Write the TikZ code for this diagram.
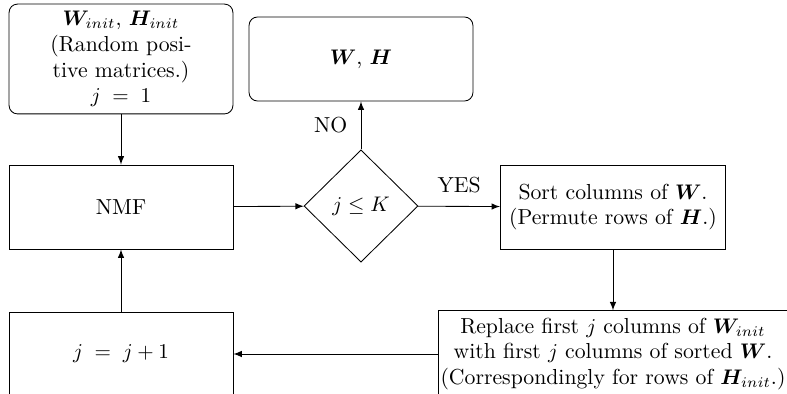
\documentclass[tikz,border=0pt]{standalone}
\usepackage{amsmath}
\usepackage{bm}
\usepackage{tikz}
\usetikzlibrary{shapes.geometric}

\begin{document}
\begin{tikzpicture}[x=0.016667cm,y=-0.016667cm,>=latex,
  every node/.style={font=\fontsize{10.3pt}{12.2pt}\selectfont},
  box/.style={draw,rectangle,minimum width=3.73cm,minimum height=1.4cm,align=center},
  rbox/.style={box,rounded corners=4pt}]
\useasboundingbox (0,0) rectangle (787,394);
\node [rbox,minimum height=1.8cm] (init) at(121,59){$\bm{W}_{init}$, $\bm{H}_{init}$\\(Random posi-\\tive matrices.)\\$j\;=\;1$};
\node [rbox] (wh) at(361,59){$\bm{W}$, $\bm{H}$};
\node [box] (nmf) at(121,207){NMF};
\node [draw,diamond,aspect=1,minimum width=1.9cm,minimum height=1.87cm,inner sep=1pt] (cond) at(361,206){$j \leq K$};
\node [box,minimum width=3.75cm] (sort) at(613,207){Sort columns of $\bm{W}$.\\(Permute rows of $\bm{H}$.)};
\node [box] (inc) at(121,354){$j\;=\;j+1$};
\node [box,minimum width=5.83cm,inner xsep=1pt] (repl) at(613,354){Replace first $j$ columns of $\bm{W}_{init}$\\with first $j$ columns of sorted $\bm{W}$.\\(Correspondingly for rows of $\bm{H}_{init}$.)};
%\node [draw,rectangle] (out) at(361,0){...};
\draw[->](init) -- (nmf);
\draw[->](nmf) -- (cond);
\draw[->](cond) -- node[above=3pt]{YES} (sort);
\draw[->](cond) -- node[left=3pt]{NO} (wh);
\draw[->](sort) -- (repl);
\draw[->](repl) -- (inc);
\draw[->](inc) -- (nmf);
\end{tikzpicture}
\end{document}
